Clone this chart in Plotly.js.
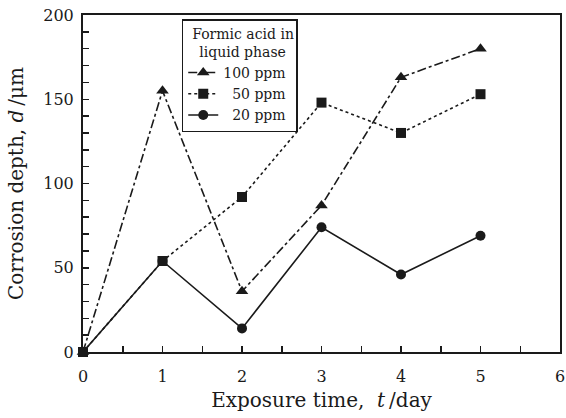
<!DOCTYPE html>
<html><head><meta charset="utf-8">
<script src="https://cdn.plot.ly/plotly-3.0.1.min.js"></script>
<style>html,body{margin:0;padding:0;background:#fff}</style>
</head><body><div id="c" style="width:566px;height:418px"></div>
<script>
const days = [0, 1, 2, 3, 4, 5];
const ppm100 = [0, 155, 36, 87, 163, 180];
const ppm50 = [0, 54, 92, 148, 130, 153];
const ppm20 = [0, 54, 14, 74, 46, 69];
const names = ['100 ppm', '\u00a0\u00a050 ppm', '\u00a0\u00a020 ppm'];

const font = 'DejaVu Serif';
const traces = [
  {x: days, y: ppm20, name: names[2], legendrank: 3, mode: 'lines+markers', cliponaxis: false,
   line: {color: '#1a1a1a', width: 1.6, dash: 'solid'}, marker: {symbol: 'circle', size: 10, color: '#1a1a1a'}},
  {x: days, y: ppm100, name: names[0], legendrank: 1, mode: 'lines+markers', cliponaxis: false,
   line: {color: '#1a1a1a', width: 1.6, dash: 'dashdot'}, marker: {symbol: 'triangle-up', size: 11, color: '#1a1a1a'}},
  {x: days, y: ppm50, name: names[1], legendrank: 2, mode: 'lines+markers', cliponaxis: false,
   line: {color: '#1a1a1a', width: 1.6, dash: 'dot'}, marker: {symbol: 'square', size: 10, color: '#1a1a1a'}}
];
const layout = {
  width: 566, height: 418,
  margin: {l: 83, r: 6, t: 15, b: 66},
  paper_bgcolor: '#fff', plot_bgcolor: '#fff',
  font: {family: font, color: '#1a1a1a', size: 15},
  showlegend: true,
  legend: {
    x: 0.207, y: 0.988, xanchor: 'left', yanchor: 'top',
    bgcolor: '#fff', bordercolor: '#1a1a1a', borderwidth: 1.5,
    font: {family: font, size: 14, color: '#1a1a1a'},
    title: {text: '\u2002Formic acid in<br>\u2002\u2002liquid phase', side: 'top', font: {family: font, size: 14}},
    traceorder: 'normal', itemwidth: 30, tracegroupgap: 0
  },
  xaxis: {
    range: [0, 6], dtick: 1, tick0: 0, ticks: 'inside', ticklen: 6, tickwidth: 1.5, tickcolor: '#1a1a1a',
    showline: true, linecolor: '#1a1a1a', linewidth: 2, mirror: true, showgrid: false, zeroline: false,
    minor: {dtick: 0.5, ticks: 'inside', ticklen: 6, tickwidth: 1.5, tickcolor: '#1a1a1a', showgrid: false},
    tickfont: {family: font, size: 16}, ticklabelstandoff: 9,
    title: {text: 'Exposure time,\u00a0\u00a0<i>t</i>\u2009/day', font: {family: font, size: 20}, standoff: 8}
  },
  yaxis: {
    range: [0, 200], dtick: 50, tick0: 0, ticks: 'inside', ticklen: 6, tickwidth: 1.5, tickcolor: '#1a1a1a',
    showline: true, linecolor: '#1a1a1a', linewidth: 2, mirror: true, showgrid: false, zeroline: false,
    minor: {dtick: 10, ticks: 'inside', ticklen: 6, tickwidth: 1.5, tickcolor: '#1a1a1a', showgrid: false},
    tickfont: {family: font, size: 16}, ticklabelstandoff: 4,
    title: {text: 'Corrosion depth,\u00a0<i>d</i>\u2009/\u03bcm', font: {family: font, size: 20}, standoff: 14}
  }
};
Plotly.newPlot('c', traces, layout, {displayModeBar: false, staticPlot: true});
</script></body></html>
